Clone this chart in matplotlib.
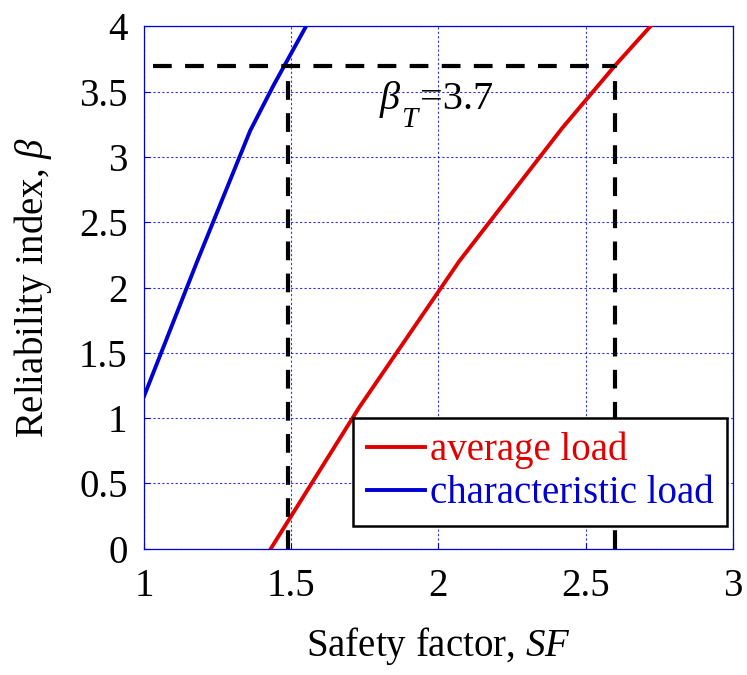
import matplotlib.pyplot as plt

plt.rcParams['font.family'] = ['Liberation Serif', 'DejaVu Serif']
plt.rcParams['mathtext.fontset'] = 'custom'
plt.rcParams['mathtext.rm'] = 'Liberation Serif'
plt.rcParams['mathtext.it'] = 'Liberation Serif:italic'

# reliability index vs safety factor
sf_avg = [1.43, 1.73, 2.07, 2.42, 2.60, 2.72]
beta_avg = [0.0, 1.08, 2.20, 3.22, 3.70, 4.00]
sf_char = [1.00, 1.18, 1.36, 1.44, 1.55]
beta_char = [1.17, 2.20, 3.20, 3.55, 4.00]

beta_target = 3.7
sf_target_char = 1.49
sf_target_avg = 2.60

fig = plt.figure(figsize=(7.47, 6.75), dpi=100)
ax = fig.add_axes([0.193, 0.187, 0.788, 0.774])

ax.plot(sf_avg, beta_avg, color='#e00000', lw=2.8, label='average load', zorder=3)
ax.plot(sf_char, beta_char, color='#0000d0', lw=2.8, label='characteristic load', zorder=3)

dash = dict(color='black', lw=3, dashes=(4.5, 3.2), zorder=4)
ax.plot([1.03, sf_target_avg], [beta_target, beta_target], **dash)
ax.plot([sf_target_char, sf_target_char], [0, beta_target], **dash)
ax.plot([sf_target_avg, sf_target_avg], [0, beta_target], **dash)

# beta_T = 3.7 label, subscript set lower by hand
ax.text(1.797, 3.37, r'$\beta$', fontsize=29, ha='left', va='baseline')
ax.text(1.872, 3.23, r'$T$', fontsize=21, ha='left', va='baseline')
ax.text(1.937, 3.37, '=3.7', fontsize=29, ha='left', va='baseline')

ax.set_xlim(1, 3)
ax.set_ylim(0, 4)
ax.set_xticks([1, 1.5, 2, 2.5, 3])
ax.set_xticklabels(['1', '1.5', '2', '2.5', '3'])
ax.set_yticks([0, 0.5, 1, 1.5, 2, 2.5, 3, 3.5, 4])
ax.set_yticklabels(['0', '0.5', '1', '1.5', '2', '2.5', '3', '3.5', '4'])
ax.tick_params(direction='in', length=4, color='#0000d0', labelsize=28)
ax.tick_params(axis='x', pad=14)
ax.tick_params(axis='y', pad=12)
ax.grid(True, color='#0000e0', ls=(0, (2, 2)), lw=0.8, alpha=0.8)
for s in ax.spines.values():
    s.set_color('#0000d0')
    s.set_linewidth(0.9)

ax.set_xlabel(r'Safety factor, $SF$', fontsize=28, labelpad=14)
ax.set_ylabel(r'Reliability index, $\beta$', fontsize=28, labelpad=18)

leg = ax.legend(loc='lower right', bbox_to_anchor=(0.99, 0.044), borderaxespad=0,
                fontsize=28, handlelength=1.5, handletextpad=0.12,
                labelspacing=0.15, borderpad=0.35, fancybox=False,
                framealpha=1, edgecolor='black')
leg.get_frame().set_linewidth(1.8)
for txt, line in zip(leg.get_texts(), leg.get_lines()):
    txt.set_color(line.get_color())

fig.savefig('out.png', dpi=100)
